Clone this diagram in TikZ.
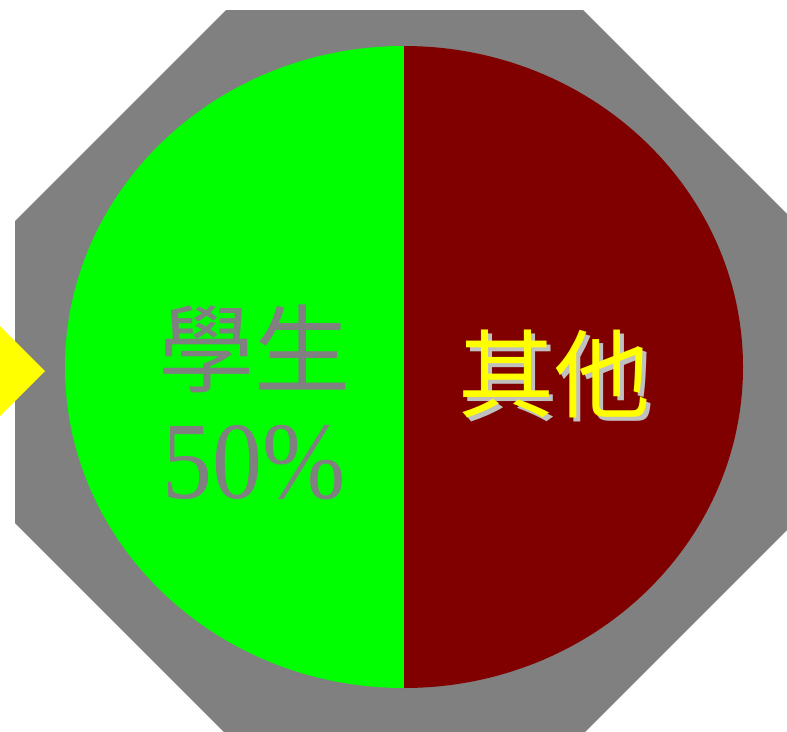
\documentclass[tikz,border=0pt]{standalone}
\usepackage{fontspec}
\usepackage{graphicx}
\setmainfont{Liberation Serif}
\newfontfamily\cjk{Noto Sans CJK TC}
\definecolor{octgray}{HTML}{808080}
\definecolor{pgreen}{HTML}{00FF00}
\definecolor{pred}{HTML}{800000}
\definecolor{shadowgray}{HTML}{C0C0C0}
\definecolor{pyellow}{HTML}{FFFF00}
\tikzset{
  lbl/.style={inner sep=0pt, outer sep=0pt, anchor=center},
}
\newcommand{\shadowtext}[1]{\makebox[0pt][l]{\hspace{4pt}\raisebox{-4pt}{\textcolor{shadowgray}{#1}}}#1}
\begin{document}
\begin{tikzpicture}[x=1pt,y=-1pt]
\useasboundingbox (0,0) rectangle (787,731);
\clip (0,0) rectangle (787,731);
% octagon
\fill[octgray] (226,10) -- (583,10) -- (794,221) -- (794,523) -- (583,734)
  -- (226,734) -- (15,523) -- (15,221) -- cycle;
% yellow pointer
\fill[pyellow] (45,371) -- (-10,316) -- (-10,426) -- cycle;
% pie halves
\fill[pgreen] (404,46) arc[start angle=90, end angle=270, x radius=339, y radius=-321] -- cycle;
\fill[pred] (404,46) arc[start angle=90, end angle=-90, x radius=339, y radius=-321] -- cycle;
% labels
\node[lbl, text=octgray] (s1) at (254,349) {\cjk\fontsize{96}{100}\selectfont 學生};
\node[lbl, text=octgray] (s2) at (254,463) {\scalebox{1}[1.1]{\fontsize{100}{110}\selectfont 50\%}};
\node[lbl, text=pyellow] (o1) at (554,376) {\cjk\fontsize{96}{100}\selectfont\shadowtext{其他}};
\end{tikzpicture}
\end{document}
